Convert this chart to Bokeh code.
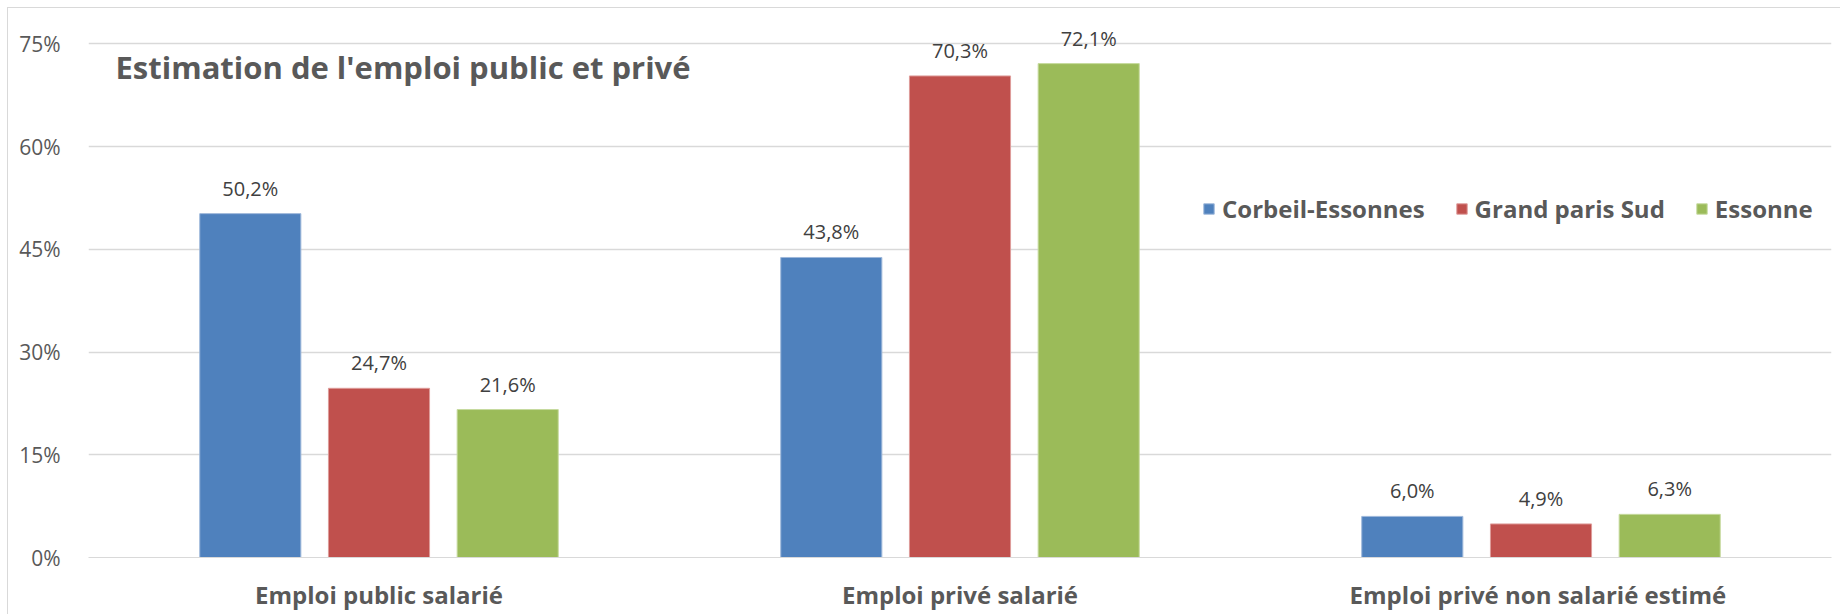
from bokeh.plotting import figure
from bokeh.models import (ColumnDataSource, FactorRange, Range1d, FixedTicker,
                          Legend, LegendItem, Label, LabelSet)
from bokeh.core.properties import value
from bokeh.transform import dodge
from bokeh.embed import file_html
from bokeh.resources import INLINE

# ---- data ----
categories = ["Emploi public salarié", "Emploi privé salarié", "Emploi  privé non salarié estimé"]
series_names = ["Corbeil-Essonnes", "Grand paris Sud", "Essonne"]
corbeil = [50.2, 43.8, 6.0]
grand_paris_sud = [24.7, 70.3, 4.9]
essonne = [21.6, 72.1, 6.3]
y_ticks = [0, 15, 30, 45, 60, 75]
y_tick_labels = ["0%", "15%", "30%", "45%", "60%", "75%"]
title_text = "Estimation de l'emploi public et privé"

colors = ["#4F81BD", "#C0504D", "#9BBB59"]
edge_colors = ["#9DB7DA", "#DE9C9A", "#C6DA9E"]
offsets = [-0.2215, 0.0, 0.2215]
series_values = [corbeil, grand_paris_sud, essonne]


def fmt(v):
    return f"{v:.1f}%".replace(".", ",")


p = figure(x_range=FactorRange(*categories), y_range=Range1d(0, 80),
           width=1833, height=607, output_backend="svg", toolbar_location=None,
           min_border_left=80, min_border_right=10, min_border_top=1,
           min_border_bottom=58)
p.margin = (7, 0, 0, 7)
p.styles = {"border-left": "1px solid #d9d9d9", "border-top": "1px solid #d9d9d9"}
p.outline_line_color = None
p.background_fill_color = "white"
p.border_fill_color = "white"

p.xgrid.grid_line_color = None
p.ygrid.grid_line_color = "#d9d9d9"
p.ygrid.grid_line_width = 1.3

p.yaxis.ticker = FixedTicker(ticks=y_ticks)
p.yaxis.major_label_overrides = {t: l for t, l in zip(y_ticks, y_tick_labels)}
p.yaxis.axis_line_color = None
p.yaxis.major_tick_line_color = None
p.yaxis.minor_tick_line_color = None
p.yaxis.major_label_standoff = 22
p.yaxis.major_label_text_font = "Open Sans"
p.yaxis.major_label_text_font_size = "21px"
p.yaxis.major_label_text_color = "#595959"

p.xaxis.axis_line_color = "#d9d9d9"
p.xaxis.major_tick_line_color = None
p.xaxis.minor_tick_line_color = None
p.xaxis.major_label_standoff = 14
p.xaxis.major_label_text_font = "Open Sans"
p.xaxis.major_label_text_font_style = "bold"
p.xaxis.major_label_text_font_size = "24px"
p.xaxis.major_label_text_color = "#595959"

items = []
for name, vals, col, ecol, off in zip(series_names, series_values, colors, edge_colors, offsets):
    src = ColumnDataSource(dict(cat=categories, val=vals, lab=[fmt(v) for v in vals]))
    r = p.vbar(x=dodge("cat", off, range=p.x_range), top="val", width=0.174,
               source=src, fill_color=col, line_color=ecol, line_width=1)
    items.append(LegendItem(label=name, renderers=[r]))
    ls = LabelSet(x=dodge("cat", off, range=p.x_range), y="val", text="lab", source=src,
                  text_align="center", text_baseline="alphabetic", y_offset=18,
                  text_font=value("Open Sans"), text_font_size=value("20px"),
                  text_color=value("#404040"))
    p.add_layout(ls)

legend = Legend(items=items, orientation="horizontal", location=(1114, 332),
                glyph_width=13, glyph_height=13, label_standoff=7, spacing=30,
                padding=0, margin=0, border_line_color=None, background_fill_alpha=0,
                label_text_font="Open Sans", label_text_font_style="bold",
                label_text_font_size="24px", label_text_color="#595959")
p.add_layout(legend)

p.add_layout(Label(x=27, y=491, x_units="screen", y_units="screen", text=title_text,
                   text_font="Open Sans", text_font_style="bold", text_font_size="31px",
                   text_color="#595959", text_baseline="middle", text_align="left"))

open("out.html", "w").write(file_html(p, INLINE))
